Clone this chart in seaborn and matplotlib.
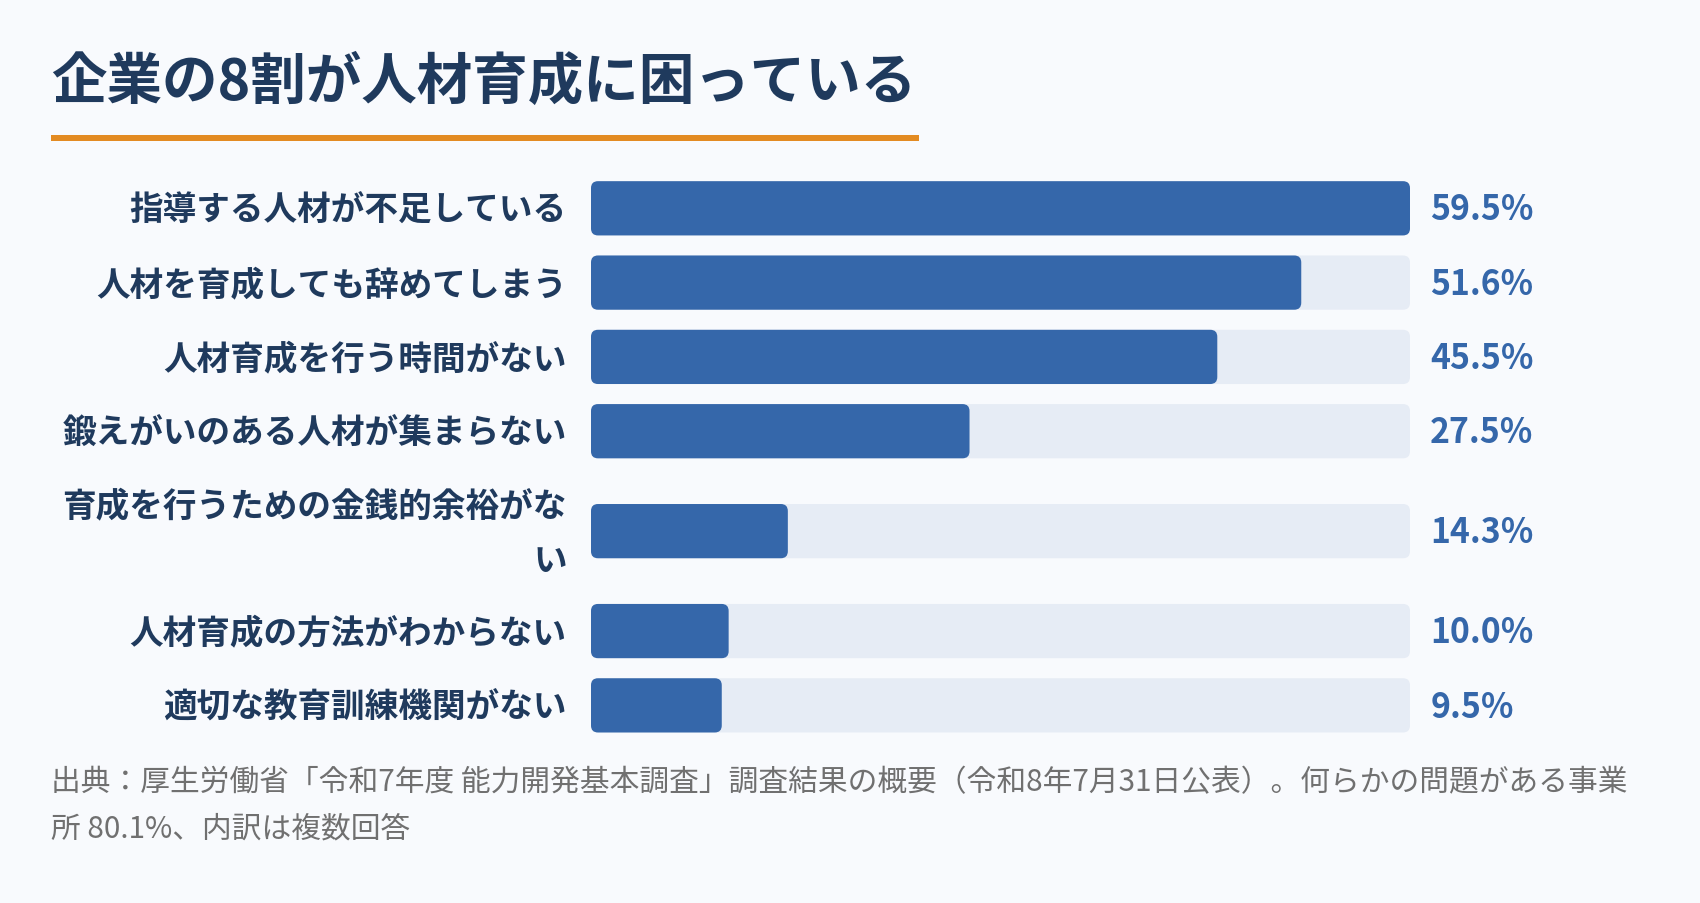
import numpy as np
import pandas as pd
import matplotlib
matplotlib.use('Agg')
import matplotlib.pyplot as plt
import seaborn as sns
from matplotlib.patches import FancyBboxPatch, Rectangle

# Data
title = '企業の8割が人材育成に困っている'
labels = [
    '指導する人材が不足している',
    '人材を育成しても辞めてしまう',
    '人材育成を行う時間がない',
    '鍛えがいのある人材が集まらない',
    '育成を行うための金銭的余裕がな\nい',
    '人材育成の方法がわからない',
    '適切な教育訓練機関がない',
]
values = [59.5, 51.6, 45.5, 27.5, 14.3, 10.0, 9.5]
note = ('出典：厚生労働省「令和7年度 能力開発基本調査」調査結果の概要（令和8年7月31日公表）。何らかの問題がある事業\n'
        '所 80.1%、内訳は複数回答')

# Colours
bg = '#f8fafd'
navy = '#1f3a5d'
blue = '#3567aa'
track = '#e6ecf5'
orange = '#e38b22'
gray = '#707070'

sns.set_theme(style='white')
plt.rcParams['font.family'] = ['Noto Sans CJK JP', 'DejaVu Sans']

W, H = 1700, 904
fig = plt.figure(figsize=(W / 100, H / 100), dpi=100, facecolor=bg)

# Row positions: a wrapped label takes extra room
n_lines = [lab.count('\n') + 1 for lab in labels]
row_h = [1 + 0.69 * (k - 1) for k in n_lines]
ypos = np.concatenate([[0], np.cumsum([(row_h[i] + row_h[i + 1]) / 2 for i in range(len(labels) - 1)])])
vmax = max(values)

df = pd.DataFrame({'label': labels, 'value': values, 'y': ypos, 'full': vmax})

# Axes geometry (pixels)
pitch = 74.3
top_px = 209.3 - 0.5 * pitch
ax_h = (ypos[-1] - ypos[0] + 1) * pitch
left_px, width_px = 591, 819
ax = fig.add_axes([left_px / W, 1 - (top_px + ax_h) / H, width_px / W, ax_h / H])
ax.set_facecolor('none')

sns.barplot(data=df, x='full', y='y', orient='h', native_scale=True, color=track,
            width=0.73, errorbar=None, saturation=1, ax=ax)
sns.barplot(data=df, x='value', y='y', orient='h', native_scale=True, color=blue,
            width=0.73, errorbar=None, saturation=1, ax=ax)

ax.set_xlim(0, vmax)
ax.set_ylim(ypos[-1] + 0.5, ypos[0] - 0.5)
ax.axis('off')

# Swap the plain rectangles for rounded ones
xupp = vmax / width_px
yupp = 1 / pitch
r_px = 7
for p in list(ax.patches):
    x, y = p.get_x(), p.get_y()
    w, h = p.get_width(), p.get_height()
    fc = p.get_facecolor()
    p.remove()
    ax.add_patch(FancyBboxPatch((x, y), w, h,
                                boxstyle=f'round,pad=0,rounding_size={r_px * xupp}',
                                mutation_aspect=yupp / xupp,
                                facecolor=fc, edgecolor='none'))

# Category labels and values
for lab, v, y in zip(df['label'], df['value'], df['y']):
    ax.annotate(lab, xy=(0, y), xytext=(-17.5, -1.5), textcoords='offset points',
                ha='right', va='center', fontsize=24.2, fontweight='bold',
                color=navy, linespacing=1.85, annotation_clip=False)
    ax.annotate(f'{v:.1f}%', xy=(vmax, y), xytext=(14.5, -0.5), textcoords='offset points',
                ha='left', va='center', fontsize=24.3, fontweight='bold',
                color=blue, annotation_clip=False)

# Title with orange underline
t = fig.text(51 / W, 1 - 83 / H, title, ha='left', va='center',
             fontsize=40, fontweight='bold', color=navy)
fig.canvas.draw()
bb = t.get_window_extent()
fig.add_artist(Rectangle((51 / W, 1 - 142 / H), (bb.x1 - bb.x0 + 3) / W, 6 / H,
                         transform=fig.transFigure, facecolor=orange, edgecolor='none'))

# Source note
fig.text(51 / W, 1 - 806 / H, note, ha='left', va='center',
         fontsize=21.4, color=gray, linespacing=1.65)

fig.savefig('out.png', dpi=100, facecolor=bg)
